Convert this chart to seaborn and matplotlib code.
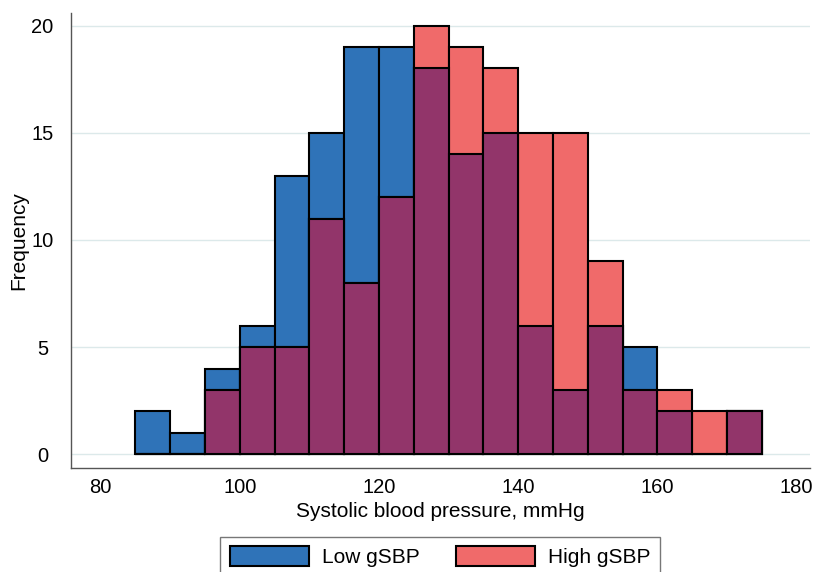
import numpy as np
import matplotlib
matplotlib.use("Agg")
import matplotlib.pyplot as plt
import seaborn as sns
from matplotlib.patches import Patch

# bins of width 5 mmHg
edges = list(range(85, 180, 5))
centers = [e + 2.5 for e in edges[:-1]]

# frequencies per bin
low_gsbp = [2, 1, 4, 6, 13, 15, 19, 19, 18, 14, 15, 6, 3, 6, 5, 2, 0, 2]
high_gsbp = [0, 0, 3, 5, 5, 11, 8, 12, 20, 19, 18, 15, 15, 9, 3, 3, 2, 2]
overlap = np.minimum(low_gsbp, high_gsbp)

blue = "#2f73b8"
pink = "#f06a6a"
purple = "#92356a"

sns.set_style("white")
plt.rcParams["font.family"] = ["Liberation Sans", "DejaVu Sans"]
plt.rcParams["text.color"] = "black"
plt.rcParams["axes.labelcolor"] = "black"
plt.rcParams["xtick.labelcolor"] = "black"
plt.rcParams["ytick.labelcolor"] = "black"

fig = plt.figure(figsize=(8.18, 5.72), dpi=100)
ax = fig.add_axes([0.0864, 0.1818, 0.9036, 0.7955])

# the taller group sits below, overlap (purple) drawn on top
kw = dict(bins=edges, edgecolor="black", linewidth=1.5, alpha=1, ax=ax)
sns.histplot(x=centers, weights=low_gsbp, color=blue, **kw)
sns.histplot(x=centers, weights=high_gsbp, color=pink, **kw)
sns.histplot(x=centers, weights=overlap, color=purple, **kw)

ax.set_xlim(75.69, 181.9)
ax.set_ylim(-0.64, 20.59)
ax.set_xticks([80, 100, 120, 140, 160, 180])
ax.set_yticks([0, 5, 10, 15, 20])
ax.yaxis.grid(True, color="#dce9ea", linewidth=1)
ax.set_axisbelow(True)

for s in ["top", "right"]:
    ax.spines[s].set_visible(False)
for s in ["left", "bottom"]:
    ax.spines[s].set_color("#555555")
    ax.spines[s].set_linewidth(1.0)
ax.tick_params(axis="both", direction="out", length=5.5, width=1,
               color="#555555", labelsize=14.5)
ax.tick_params(axis="x", pad=2)
ax.tick_params(axis="y", pad=14.8)
for lab in ax.get_yticklabels():
    lab.set_horizontalalignment("center")

ax.set_xlabel("Systolic blood pressure, mmHg", fontsize=15, labelpad=3.5)
ax.set_ylabel("Frequency", fontsize=15, labelpad=2)

handles = [Patch(facecolor=blue, edgecolor="black", linewidth=1.5),
           Patch(facecolor=pink, edgecolor="black", linewidth=1.5)]
leg = fig.legend(handles, ["Low gSBP", "High gSBP"], loc="upper center",
                 bbox_to_anchor=(0.538, 0.0612), borderaxespad=0, ncol=2,
                 fontsize=15, frameon=True, fancybox=False, handlelength=3.8,
                 handleheight=1.1, columnspacing=1.73, borderpad=0.45,
                 handletextpad=0.62)
leg.get_frame().set_edgecolor("#555555")
leg.get_frame().set_linewidth(1.0)

fig.savefig("out.png", dpi=100)
